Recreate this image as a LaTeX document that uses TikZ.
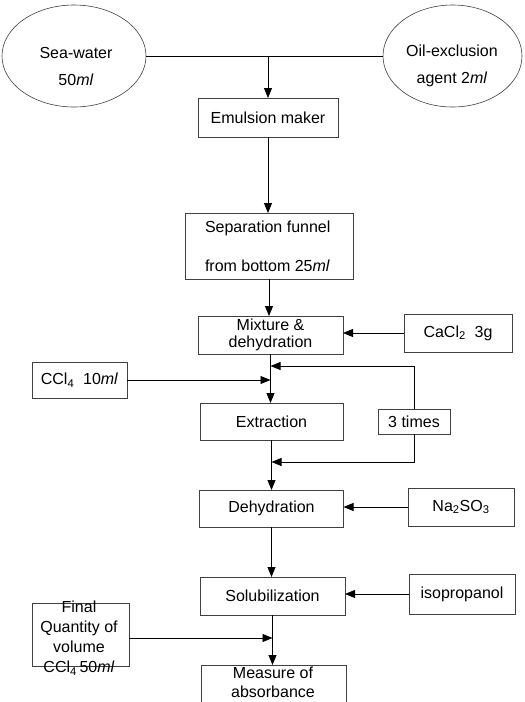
\documentclass[tikz,border=0pt]{standalone}
\usepackage{fontspec}
\setmainfont{Liberation Sans}
\usetikzlibrary{arrows.meta,shapes.geometric}
\begin{document}
\begin{tikzpicture}[x=1pt,y=-1pt,
  every node/.style={font=\fontsize{16}{16.5}\selectfont, inner sep=0pt, outer sep=0pt},
  procbox/.style={draw=black!75, line width=0.6pt, rectangle, align=center},
  oval/.style={draw=black!75, line width=0.6pt, ellipse, align=center},
  conn/.style={line width=0.8pt},
  arr/.style={conn, -{Triangle[length=10pt,width=8pt]}}]
\clip (0,0) rectangle (525,702);
% sources
\node[oval, minimum width=144pt, minimum height=102pt] (sea) at (74,56) {};
\node[align=center, font=\fontsize{16}{27}\selectfont] (seat) at (76,66) {Sea-water\\50\textit{ml}};
\node[oval, minimum width=139pt, minimum height=102pt] (oil) at (452.5,56) {};
\node[align=center, font=\fontsize{16}{27}\selectfont] (oilt) at (452,66) {Oil-exclusion\\agent 2\textit{ml}};
% main boxes
\node[procbox, minimum width=140pt, minimum height=39pt] (emul) at (268,117.5) {Emulsion maker};
\node[procbox, minimum width=168pt, minimum height=66pt] (sep) at (269,246) {};
\node[anchor=west] (sepa) at (205,228) {Separation funnel};
\node[anchor=west] (sepb) at (205,266) {from bottom 25\textit{ml}};
\node[procbox, minimum width=145pt, minimum height=38pt] (mix) at (270.5,335) {Mixture \&\\dehydration};
\node[procbox, minimum width=108pt, minimum height=38pt] (cacl) at (458,333) {CaCl\textsubscript{2}\ \ 3g};
\node[procbox, minimum width=95pt, minimum height=36pt] (ccl) at (79.5,380) {CCl\textsubscript{4}\ \ 10\textit{ml}};
\node[procbox, minimum width=143pt, minimum height=37pt] (ext) at (271.5,421.5) {Extraction};
\node[procbox, minimum width=72pt, minimum height=25pt] (times) at (414,421.5) {3 times};
\node[procbox, minimum width=144pt, minimum height=37pt] (deh) at (271.5,508.5) {Dehydration};
\node[procbox, minimum width=106pt, minimum height=38pt] (na) at (461,507) {Na\textsubscript{2}SO\textsubscript{3}};
\node[procbox, minimum width=145pt, minimum height=38pt] (sol) at (272.5,596) {Solubilization};
\node[procbox, minimum width=106pt, minimum height=40pt] (iso) at (462,594) {isopropanol};
\node[procbox, minimum width=97pt, minimum height=63pt] (final) at (80.5,634.5) {};
\node[align=center, font=\fontsize{16}{20}\selectfont] (finalt) at (79,638) {Final\\Quantity of\\volume\\CCl\textsubscript{4}\,50\textit{ml}};
\node[procbox, minimum width=145pt, minimum height=47pt] (meas) at (273.5,688.5) {};
\node[align=center, font=\fontsize{16}{19}\selectfont] (meast) at (273,682.5) {Measure of\\absorbance};
% connectors
\draw[conn] (sea.east) -- (oil.west);
\draw[arr] (emul.north |- sea.east) -- (emul.north);
\draw[arr] (emul.south) -- (emul.south |- sep.north);
\draw[arr] (sep.south) -- (sep.south |- mix.north);
\draw[arr] (mix.south) -- (mix.south |- ext.north);
\draw[arr] (cacl.west) -- (cacl.west -| mix.east);
\draw[arr] (ccl.east) -- (ccl.east -| mix.south);
\coordinate (ft) at (414,366);
\coordinate (fb) at (414,462);
\draw[arr] (times.north) -- (times.north |- ft) -- (ft -| mix.south);
\draw[arr] (times.south) -- (times.south |- fb) -- (fb -| ext.south);
\draw[arr] (ext.south) -- (ext.south |- deh.north);
\draw[arr] (na.west) -- (na.west -| deh.east);
\draw[arr] (deh.south) -- (deh.south |- sol.north);
\draw[arr] (iso.west) -- (iso.west -| sol.east);
\draw[arr] ([yshift=-3.5pt]final.east) -- ([yshift=-3.5pt]final.east -| sol.south);
\draw[arr] (sol.south) -- (sol.south |- meas.north);
\end{tikzpicture}
\end{document}
